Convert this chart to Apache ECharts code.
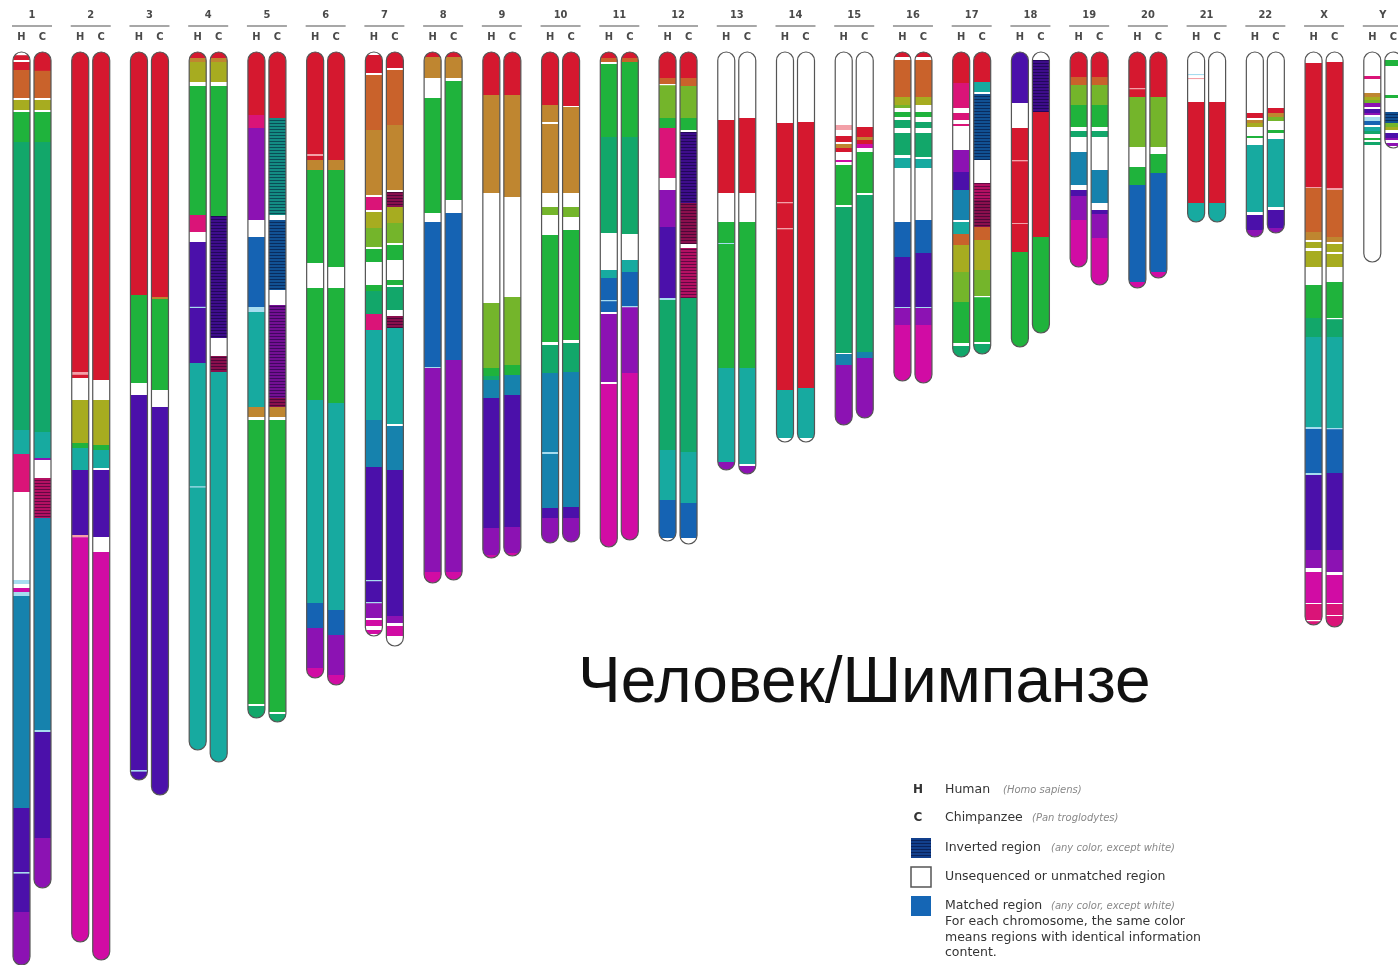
<!DOCTYPE html>
<html>
<head>
<meta charset="utf-8">
<script src="https://cdn.jsdelivr.net/npm/echarts@6/dist/echarts.min.js"></script>
<style>
  html, body { margin: 0; padding: 0; background: #ffffff; }
  #chart { width: 1398px; height: 965px; }
</style>
</head>
<body>
<div id="chart"></div>
<script>
// Chromosome pairs, left to right
const chromosomes = ['1','2','3','4','5','6','7','8','9','10','11','12','13','14','15','16','17','18','19','20','21','22','X','Y'];
const sideLabels = ['H', 'C'];

// Band lists: [end position along the chromosome, region code]; each band starts where the previous one ends.
// Upper-case code = matched region, lower-case = inverted region, W = unsequenced / unmatched.
const chr1H = [[0.8,'W'],[2,'R'],[2.5,'W'],[4.5,'R'],[11.5,'O'],[12,'W'],[14.5,'Y'],[15,'W'],[22.5,'G'],[94.5,'E'],[100.5,'T'],[110,'K'],[132,'W'],[133,'S'],[134,'W'],[135,'M'],[136,'S'],[189,'C'],[205,'V'],[205.4,'S'],[215,'V'],[228.25,'P']];
const chr1C = [[4.7,'R'],[11.5,'O'],[12,'W'],[14.5,'Y'],[15,'W'],[22.5,'G'],[95,'E'],[101.5,'T'],[102,'P'],[106.5,'W'],[116.5,'k'],[169.5,'C'],[170,'S'],[196.5,'V'],[209,'P']];
const chr2H = [[80,'R'],[80.7,'Q'],[81.5,'R'],[87,'W'],[97.75,'Y'],[99,'G'],[104.5,'T'],[120.75,'V'],[121.3,'Q'],[222.5,'M']];
const chr2C = [[82,'R'],[87,'W'],[98.25,'Y'],[99.5,'G'],[104,'T'],[104.5,'W'],[121.25,'V'],[125,'W'],[227,'M']];
const chr3H = [[60.75,'R'],[82.75,'G'],[85.75,'W'],[179.5,'V'],[179.9,'S'],[182,'V']];
const chr3C = [[61.25,'R'],[61.75,'B'],[84.5,'G'],[88.75,'W'],[185.75,'V']];
const chr4H = [[1.5,'R'],[2.5,'B'],[7.5,'Y'],[8.5,'W'],[40.75,'G'],[45,'K'],[47.5,'W'],[63.7,'V'],[64,'S'],[77.75,'V'],[108.6,'T'],[108.9,'S'],[174.5,'T']];
const chr4C = [[1.5,'R'],[2.5,'B'],[7.5,'Y'],[8.5,'W'],[41,'G'],[71.5,'v'],[76,'W'],[80,'n'],[177.5,'T']];
const chr5H = [[15.75,'R'],[19,'K'],[42,'P'],[46.25,'W'],[63.75,'U'],[65,'S'],[88.75,'T'],[91.25,'B'],[92,'W'],[163,'G'],[163.5,'W'],[166.5,'E']];
const chr5C = [[16.5,'R'],[40.75,'t'],[42,'W'],[59.5,'u'],[63.25,'W'],[86.5,'p'],[88.75,'n'],[91.25,'B'],[92,'W'],[165,'G'],[165.5,'W'],[167.5,'E']];
const chr6H = [[25.5,'R'],[26,'Q'],[27,'R'],[29.5,'B'],[52.75,'G'],[59,'W'],[87,'G'],[137.75,'T'],[144,'U'],[154,'P'],[156.5,'M']];
const chr6C = [[27,'R'],[29.5,'B'],[53.75,'G'],[59,'W'],[87.75,'G'],[139.5,'T'],[145.75,'U'],[155.75,'P'],[158.25,'M']];
const chr7H = [[0.75,'W'],[5.25,'R'],[5.75,'W'],[19.5,'O'],[35.75,'B'],[36.25,'W'],[39.5,'K'],[40,'W'],[44,'Y'],[48.75,'L'],[49.25,'W'],[52.5,'G'],[58.25,'W'],[59.75,'G'],[65.5,'E'],[69.5,'K'],[92,'T'],[103.75,'C'],[132,'V'],[132.3,'S'],[137.5,'V'],[137.8,'S'],[141.5,'P'],[142,'W'],[143.5,'M'],[144.5,'W'],[145.5,'M'],[146,'W']];
const chr7C = [[4,'R'],[4.5,'W'],[18.25,'O'],[34.5,'B'],[35,'W'],[38.75,'n'],[42.75,'Y'],[47.75,'L'],[48.25,'W'],[52,'G'],[57,'W'],[58.25,'G'],[58.75,'W'],[64.5,'E'],[66,'W'],[69,'n'],[93,'T'],[93.5,'W'],[104.5,'C'],[141,'V'],[142.75,'P'],[143.5,'W'],[146,'M'],[148.5,'W']];
const chr8H = [[1.25,'R'],[6.5,'B'],[11.5,'W'],[40.25,'G'],[42.5,'W'],[78.75,'U'],[79,'S'],[130,'P'],[132.75,'M']];
const chr8C = [[1.25,'R'],[6.5,'B'],[7.25,'W'],[37,'G'],[40.25,'W'],[77,'U'],[130,'P'],[132,'M']];
const chr9H = [[10.75,'R'],[35.25,'B'],[62.75,'W'],[79,'L'],[81,'G'],[82,'E'],[86.5,'C'],[119,'V'],[125.75,'P'],[126.5,'M']];
const chr9C = [[10.75,'R'],[36.25,'B'],[61.25,'W'],[78.25,'L'],[80.75,'G'],[85.75,'C'],[118.75,'V'],[125.25,'P'],[126,'M']];
const chr10H = [[13.25,'R'],[17.5,'B'],[18,'W'],[35.25,'B'],[38.75,'W'],[40.75,'L'],[45.75,'W'],[72.5,'G'],[73.25,'W'],[80.25,'E'],[100,'C'],[100.5,'S'],[114,'C'],[116.5,'V'],[122.75,'P']];
const chr10C = [[13.5,'R'],[13.75,'W'],[35.25,'B'],[38.75,'W'],[41.25,'L'],[44.5,'W'],[72,'G'],[72.75,'W'],[80,'E'],[113.75,'C'],[116.5,'V'],[122.5,'P']];
const chr11H = [[1.5,'R'],[2.5,'O'],[3,'W'],[21.25,'G'],[45.25,'E'],[54.5,'W'],[56.5,'T'],[62,'U'],[62.3,'S'],[65,'U'],[65.5,'W'],[82.5,'P'],[83,'W'],[123.75,'M']];
const chr11C = [[1.5,'R'],[2.5,'O'],[21.25,'G'],[45.5,'E'],[52,'W'],[55,'T'],[63.5,'U'],[63.8,'S'],[80.25,'P'],[122,'M']];
const chr12H = [[6.5,'R'],[8,'O'],[8.3,'W'],[16.5,'L'],[19,'G'],[31.5,'K'],[34.5,'W'],[43.75,'P'],[61.5,'V'],[62,'S'],[99.5,'E'],[112,'T'],[121.5,'U'],[122.25,'W']];
const chr12C = [[6.5,'R'],[8.5,'O'],[16.5,'L'],[19.5,'G'],[20,'W'],[37.75,'v'],[48,'n'],[49,'W'],[61.5,'k'],[100,'E'],[112.75,'T'],[121.5,'U'],[123,'W']];
const chr13H = [[17,'W'],[35.25,'R'],[42.5,'W'],[47.75,'G'],[48,'S'],[79,'G'],[102.5,'T'],[104.5,'P']];
const chr13C = [[16.5,'W'],[35.25,'R'],[42.5,'W'],[79,'G'],[103,'T'],[103.5,'W'],[105.5,'P']];
const chr14H = [[17.75,'W'],[37.5,'R'],[37.8,'Q'],[44,'R'],[44.3,'Q'],[84.5,'R'],[96.5,'T'],[97.5,'W']];
const chr14C = [[17.5,'W'],[84,'R'],[96.5,'T'],[97.5,'W']];
const chr15H = [[18.25,'W'],[19.5,'Q'],[21,'W'],[22.5,'R'],[23,'W'],[24,'B'],[25,'R'],[27,'W'],[27.5,'M'],[28.25,'W'],[38.25,'G'],[38.75,'W'],[75.25,'E'],[75.5,'W'],[78.25,'C'],[93.25,'P']];
const chr15C = [[18.75,'W'],[21.25,'R'],[22,'B'],[23,'R'],[24,'M'],[25,'W'],[35.25,'G'],[35.75,'W'],[75,'E'],[76.5,'C'],[91.5,'P']];
const chr16H = [[1.25,'R'],[2,'W'],[11.25,'O'],[13.25,'Y'],[14,'L'],[15,'W'],[16.25,'G'],[17,'W'],[19,'E'],[20.25,'W'],[25.75,'E'],[26.5,'W'],[29,'T'],[42.5,'W'],[51.25,'U'],[63.75,'V'],[64,'S'],[68.25,'P'],[82.25,'M']];
const chr16C = [[1.25,'R'],[2,'W'],[11.25,'O'],[13.25,'Y'],[15,'W'],[16.25,'G'],[17.5,'W'],[19,'E'],[20.25,'W'],[26.25,'E'],[26.75,'W'],[29,'T'],[42,'W'],[50.25,'U'],[63.75,'V'],[64,'S'],[68.25,'P'],[82.75,'M']];
const chr17H = [[7.75,'R'],[14,'K'],[15.25,'W'],[17,'K'],[18,'W'],[18.5,'K'],[24.5,'W'],[30,'P'],[34.5,'V'],[42,'C'],[42.5,'W'],[45.5,'T'],[48.25,'O'],[55,'Y'],[62.5,'L'],[72.75,'G'],[73.5,'W'],[76.25,'E']];
const chr17C = [[7.5,'R'],[10,'T'],[10.5,'W'],[27,'u'],[32.75,'W'],[37,'k'],[43.75,'n'],[47,'O'],[54.5,'Y'],[61,'L'],[61.3,'W'],[72.5,'G'],[73,'W'],[75.5,'E']];
const chr18H = [[12.75,'V'],[19,'W'],[27,'R'],[27.3,'Q'],[42.75,'R'],[43,'Q'],[50,'R'],[73.75,'G']];
const chr18C = [[2,'W'],[15,'v'],[46.25,'R'],[70.25,'G']];
const chr19H = [[6.25,'R'],[8.25,'O'],[13.25,'L'],[18.75,'G'],[19.75,'W'],[21.25,'E'],[25,'W'],[33.25,'C'],[34.5,'W'],[36,'V'],[42,'P'],[53.75,'M']];
const chr19C = [[6.25,'R'],[8.25,'O'],[13.25,'L'],[18.75,'G'],[19.75,'W'],[21.25,'E'],[29.5,'W'],[37.75,'C'],[39.5,'W'],[40.5,'V'],[46.5,'P'],[58.25,'M']];
const chr20H = [[9,'R'],[9.3,'Q'],[11.25,'R'],[23.75,'L'],[28.75,'W'],[33.25,'G'],[57.5,'U'],[59,'M']];
const chr20C = [[11.25,'R'],[23.75,'L'],[25.5,'W'],[30.25,'G'],[55,'U'],[56.5,'M']];
const chr21H = [[5.5,'W'],[5.8,'S'],[6.5,'W'],[6.8,'Q'],[12.5,'W'],[37.75,'R'],[42.5,'T']];
const chr21C = [[12.5,'W'],[37.75,'R'],[42.5,'T']];
const chr22H = [[15.25,'W'],[16.5,'R'],[17,'W'],[17.75,'B'],[18.75,'Y'],[21,'W'],[21.5,'G'],[23.25,'W'],[40,'T'],[40.75,'W'],[44.5,'V'],[46.25,'P']];
const chr22C = [[14,'W'],[15.25,'R'],[16.25,'B'],[17.25,'L'],[19.5,'W'],[20.25,'G'],[21.75,'W'],[38.75,'T'],[39.5,'W'],[44,'V'],[45.25,'P']];
const chrXH = [[2.75,'W'],[33.75,'R'],[34,'Q'],[45,'O'],[47,'B'],[47.5,'W'],[49,'Y'],[49.75,'W'],[53.75,'Y'],[58.25,'W'],[66.5,'G'],[71.25,'E'],[93.75,'T'],[94.25,'S'],[105.25,'U'],[105.75,'S'],[124.5,'V'],[129,'P'],[130,'W'],[137.75,'M'],[138,'W'],[142,'K'],[142.3,'W'],[143.25,'K']];
const chrXC = [[2.5,'W'],[34,'R'],[34.5,'Q'],[46.25,'O'],[47.5,'B'],[48,'W'],[50,'Y'],[50.5,'W'],[53.75,'Y'],[57.5,'W'],[66.5,'G'],[66.8,'W'],[71.25,'E'],[94,'T'],[94.3,'S'],[105.25,'U'],[124.5,'V'],[130,'P'],[130.75,'W'],[137.75,'M'],[138,'W'],[140.75,'K'],[141,'W'],[143.75,'K']];
const chrYH = [[6,'W'],[6.75,'K'],[10.25,'W'],[11.25,'B'],[12,'Y'],[12.75,'L'],[13.75,'P'],[14.25,'W'],[15.25,'V'],[15.75,'P'],[16.25,'W'],[17.25,'S'],[18.25,'U'],[18.75,'W'],[19.75,'T'],[20.5,'E'],[21.5,'W'],[22,'G'],[22.5,'W'],[23.25,'E'],[52.5,'W']];
const chrYC = [[2,'W'],[3.5,'G'],[10.75,'W'],[11.5,'G'],[15,'W'],[17.75,'u'],[18.75,'L'],[19.5,'Y'],[20.25,'W'],[21.5,'V'],[22,'P'],[22.75,'W'],[23.5,'P'],[24,'W']];

// Region colours
const palette = {
  R: '#d5182f', O: '#c9622b', B: '#bf8630', Y: '#a7ac20', L: '#74b52b',
  G: '#1fb33c', E: '#12a76a', T: '#17aaa0', C: '#1682ad', U: '#1563b3',
  V: '#4b10aa', P: '#8c12b3', M: '#d10ca4', K: '#da1478', N: '#a8125e',
  S: '#a6dcef', Q: '#f3a0a8', W: '#ffffff'
};

const pairs = [
  [chr1H, chr1C], [chr2H, chr2C], [chr3H, chr3C], [chr4H, chr4C], [chr5H, chr5C], [chr6H, chr6C],
  [chr7H, chr7C], [chr8H, chr8C], [chr9H, chr9C], [chr10H, chr10C], [chr11H, chr11C], [chr12H, chr12C],
  [chr13H, chr13C], [chr14H, chr14C], [chr15H, chr15C], [chr16H, chr16C], [chr17H, chr17C], [chr18H, chr18C],
  [chr19H, chr19C], [chr20H, chr20C], [chr21H, chr21C], [chr22H, chr22C], [chrXH, chrXC], [chrYH, chrYC]
];

const HALF = 8.5;      // half width of one chromatid bar
const OFFSET = 10.5;   // distance of each bar from the pair centre

// Striped overlay used for inverted regions
const stripeCanvas = document.createElement('canvas');
stripeCanvas.width = 4; stripeCanvas.height = 3;
(function () {
  const g = stripeCanvas.getContext('2d');
  g.fillStyle = 'rgba(0,0,30,0.45)';
  g.fillRect(0, 0, 4, 1);
})();
const stripes = { image: stripeCanvas, repeat: 'repeat' };

function darken(hex, k) {
  const n = parseInt(hex.slice(1), 16);
  const f = c => Math.round(c * (1 - k));
  return 'rgb(' + f(n >> 16) + ',' + f((n >> 8) & 255) + ',' + f(n & 255) + ')';
}

const barData = [];
pairs.forEach((p, i) => p.forEach((segs, side) => barData.push([i, side, segs[segs.length - 1][0]])));

function renderBar(params, api) {
  const i = api.value(0), side = api.value(1);
  const segs = pairs[i][side];
  const cx = api.coord([i, 0])[0] + (side === 0 ? -OFFSET : OFFSET);
  const x = cx - HALF, w = HALF * 2, r = HALF;
  const children = [];
  let start = 0;
  segs.forEach(([end, code]) => {
    const y0 = api.coord([i, start])[1];
    const y1 = api.coord([i, end])[1];
    const inverted = code !== code.toUpperCase();
    const base = palette[code.toUpperCase()];
    const shape = { x: x, y: y0, width: w, height: Math.max(0.6, y1 - y0) + 0.25 };
    children.push({ type: 'rect', shape: shape, style: { fill: inverted ? darken(base, 0.18) : base } });
    if (inverted) children.push({ type: 'rect', shape: shape, style: { fill: stripes } });
    start = end;
  });
  const top = api.coord([i, 0])[1];
  const bottom = api.coord([i, start])[1];
  // white corner masks give the rounded chromosome ends
  children.push({ type: 'path', shape: { pathData:
    `M${x - 1} ${top - 1} L${x - 1} ${top + r} L${x} ${top + r} A${r} ${r} 0 0 1 ${x + w} ${top + r} L${x + w + 1} ${top + r} L${x + w + 1} ${top - 1} Z` },
    style: { fill: '#ffffff' } });
  children.push({ type: 'path', shape: { pathData:
    `M${x - 1} ${bottom + 1} L${x - 1} ${bottom - r} L${x} ${bottom - r} A${r} ${r} 0 0 0 ${x + w} ${bottom - r} L${x + w + 1} ${bottom - r} L${x + w + 1} ${bottom + 1} Z` },
    style: { fill: '#ffffff' } });
  children.push({ type: 'rect', shape: { x: x, y: top, width: w, height: bottom - top, r: r },
    style: { fill: 'none', stroke: '#555555', lineWidth: 1.2 } });
  return { type: 'group', children: children };
}

function renderHeader(params, api) {
  const i = api.value(0);
  const [px, top] = api.coord([i, 0]);
  const font = 'bold 11px "DejaVu Sans Condensed", "DejaVu Sans", sans-serif';
  return { type: 'group', children: [
    { type: 'text', style: { text: chromosomes[i], x: px, y: top - 37, align: 'center', verticalAlign: 'middle', font: font, fill: '#4a4a4a' } },
    { type: 'line', shape: { x1: px - 20, y1: top - 26, x2: px + 20, y2: top - 26 }, style: { stroke: '#8a8a8a', lineWidth: 1.5 } },
    { type: 'text', style: { text: sideLabels[0], x: px - OFFSET, y: top - 15, align: 'center', verticalAlign: 'middle', font: font, fill: '#4a4a4a' } },
    { type: 'text', style: { text: sideLabels[1], x: px + OFFSET, y: top - 15, align: 'center', verticalAlign: 'middle', font: font, fill: '#4a4a4a' } }
  ] };
}

const legendFont = '12.5px "DejaVu Sans", sans-serif';
const noteFont = 'italic 10px "DejaVu Sans", sans-serif';
const legendColor = '#333333';
const noteColor = '#888888';

function legendText(text, x, y, font, fill) {
  return { type: 'text', x: x, y: y, silent: true, style: { text: text, font: font, fill: fill, verticalAlign: 'middle' } };
}

const chart = echarts.init(document.getElementById('chart'), null, { renderer: 'canvas' });
chart.setOption({
  backgroundColor: '#ffffff',
  animation: false,
  grid: { left: 32, right: 15.2, top: 52, height: 913 },
  xAxis: { type: 'value', min: 0, max: 23, show: false },
  yAxis: { type: 'value', min: 0, max: 228.25, inverse: true, show: false },
  series: [
    { type: 'custom', name: 'bars', silent: true, clip: false, data: barData, renderItem: renderBar },
    { type: 'custom', name: 'header', silent: true, clip: false, data: chromosomes.map((c, i) => [i]), renderItem: renderHeader }
  ],
  graphic: [
    { type: 'text', x: 578, y: 684, silent: true,
      style: { text: 'Человек/Шимпанзе', font: '64px "Liberation Sans", Arial, sans-serif', fill: '#111111', verticalAlign: 'middle' } },
    { type: 'text', x: 918, y: 790, silent: true, style: { text: 'H', font: 'bold 12px "DejaVu Sans", sans-serif', fill: '#333', align: 'center', verticalAlign: 'middle' } },
    legendText('Human', 945, 790, legendFont, legendColor),
    legendText('(Homo sapiens)', 1003, 790, noteFont, noteColor),
    { type: 'text', x: 918, y: 818, silent: true, style: { text: 'C', font: 'bold 12px "DejaVu Sans", sans-serif', fill: '#333', align: 'center', verticalAlign: 'middle' } },
    legendText('Chimpanzee', 945, 818, legendFont, legendColor),
    legendText('(Pan troglodytes)', 1032, 818, noteFont, noteColor),
    { type: 'rect', shape: { x: 911, y: 838, width: 20, height: 20 }, silent: true, style: { fill: '#123f8c' } },
    { type: 'rect', shape: { x: 911, y: 838, width: 20, height: 20 }, silent: true, style: { fill: stripes } },
    legendText('Inverted region', 945, 848, legendFont, legendColor),
    legendText('(any color, except white)', 1051, 848, noteFont, noteColor),
    { type: 'rect', shape: { x: 911, y: 867, width: 20, height: 20 }, silent: true, style: { fill: '#ffffff', stroke: '#555555', lineWidth: 1.5 } },
    legendText('Unsequenced or unmatched region', 945, 877, legendFont, legendColor),
    { type: 'rect', shape: { x: 911, y: 896, width: 20, height: 20 }, silent: true, style: { fill: '#1566b5' } },
    legendText('Matched region', 945, 906, legendFont, legendColor),
    legendText('(any color, except white)', 1051, 906, noteFont, noteColor),
    legendText('For each chromosome, the same color', 945, 922, legendFont, legendColor),
    legendText('means regions with identical information', 945, 938, legendFont, legendColor),
    legendText('content.', 945, 953, legendFont, legendColor)
  ]
});
</script>
</body>
</html>
